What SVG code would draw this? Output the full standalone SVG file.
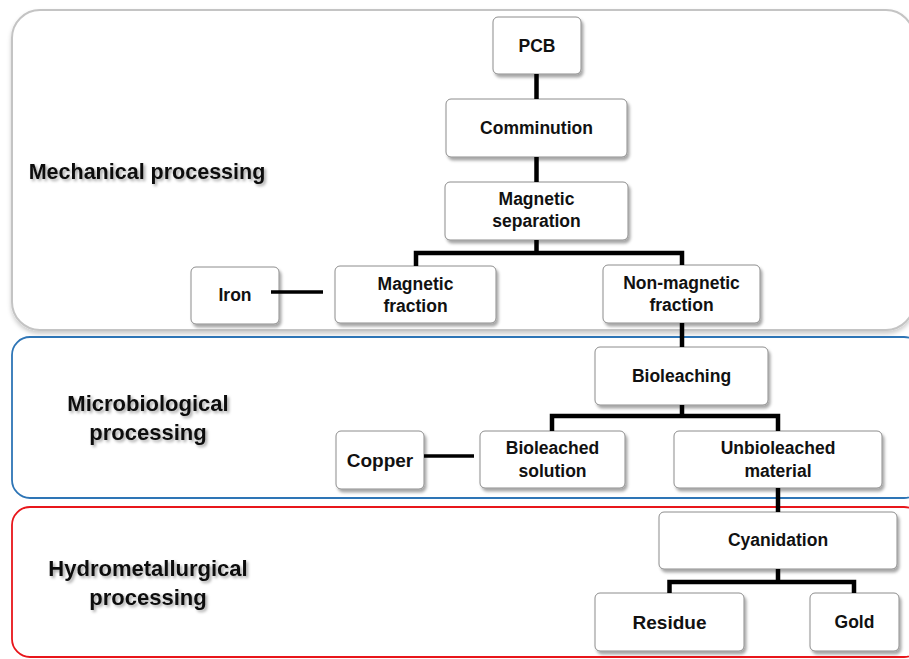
<svg xmlns="http://www.w3.org/2000/svg" width="909" height="659" viewBox="0 0 909 659">
<defs>
<filter id="sh" x="-20%" y="-20%" width="150%" height="160%">
<feGaussianBlur in="SourceAlpha" stdDeviation="1.6"/>
<feOffset dx="2" dy="3" result="b"/>
<feFlood flood-color="#000" flood-opacity="0.35"/>
<feComposite in2="b" operator="in"/>
<feMerge><feMergeNode/><feMergeNode in="SourceGraphic"/></feMerge>
</filter>
<filter id="secsh" x="-5%" y="-5%" width="110%" height="115%">
<feGaussianBlur in="SourceAlpha" stdDeviation="2"/>
<feOffset dx="0" dy="3" result="b"/>
<feFlood flood-color="#000" flood-opacity="0.2"/>
<feComposite in2="b" operator="in"/>
<feMerge><feMergeNode/><feMergeNode in="SourceGraphic"/></feMerge>
</filter>
<filter id="tsh" x="-10%" y="-30%" width="120%" height="160%">
<feGaussianBlur in="SourceAlpha" stdDeviation="1.5"/>
<feOffset dx="2" dy="2" result="b"/>
<feFlood flood-color="#000" flood-opacity="0.35"/>
<feComposite in2="b" operator="in"/>
<feMerge><feMergeNode/><feMergeNode in="SourceGraphic"/></feMerge>
</filter>
</defs>
<style>
.node rect{fill:#fff;stroke:#8c8c8c;stroke-width:1;filter:url(#sh)}
.node text{font-family:"Liberation Sans",Arial,sans-serif;font-weight:bold;font-size:17.5px;fill:#111;text-anchor:middle}
.node text.big{font-size:19px}
.sec{fill:#fff}
.lbl{font-family:"Liberation Sans",Arial,sans-serif;font-weight:bold;font-size:22px;fill:#111;text-anchor:middle;filter:url(#tsh)}
.conn{fill:none;stroke:#000;stroke-width:4.5}
</style>
<rect width="909" height="659" fill="#fff"/>
<g id="sections">
<rect id="sec-mech" class="sec" x="12" y="10" width="902" height="320" rx="28" ry="28" stroke="#c4c4c4" stroke-width="2" filter="url(#secsh)"/>
<rect id="sec-micro" class="sec" x="12" y="337" width="910" height="161" rx="18" ry="18" stroke="#2e75b6" stroke-width="1.8"/>
<rect id="sec-hydro" class="sec" x="12" y="507" width="910" height="150" rx="18" ry="18" stroke="#e8161b" stroke-width="1.8"/>
<text class="lbl" x="147" y="179" style="font-size:21.5px">Mechanical processing</text>
<text class="lbl" x="148" y="411">Microbiological</text>
<text class="lbl" x="148" y="440">processing</text>
<text class="lbl" x="148" y="576">Hydrometallurgical</text>
<text class="lbl" x="148" y="605">processing</text>
</g>
<g id="n-pcb" class="node"><rect x="493" y="17" width="88" height="57" rx="5"/><text x="537" y="52">PCB</text></g>
<g id="n-comminution" class="node"><rect x="446" y="99" width="181" height="58" rx="5"/><text x="536.5" y="134">Comminution</text></g>
<g id="n-magsep" class="node"><rect x="445" y="182" width="183" height="58" rx="5"/><text x="536.5" y="205">Magnetic</text><text x="536.5" y="227">separation</text></g>
<g id="n-iron" class="node"><rect x="191" y="267" width="88" height="57" rx="5"/><text x="235" y="301">Iron</text></g>
<g id="n-magfrac" class="node"><rect x="335" y="266" width="161" height="57" rx="5"/><text x="415.5" y="290">Magnetic</text><text x="415.5" y="312">fraction</text></g>
<g id="n-nonmag" class="node"><rect x="603" y="265" width="157" height="58" rx="5"/><text x="681.5" y="289">Non-magnetic</text><text x="681.5" y="311">fraction</text></g>
<g id="n-bioleaching" class="node"><rect x="595" y="347" width="173" height="58" rx="5"/><text x="681.5" y="382">Bioleaching</text></g>
<g id="n-copper" class="node"><rect x="336" y="431" width="88" height="58" rx="5"/><text class="big" x="380" y="467">Copper</text></g>
<g id="n-biosol" class="node"><rect x="480" y="431" width="145" height="57" rx="5"/><text x="552.5" y="454">Bioleached</text><text x="552.5" y="477">solution</text></g>
<g id="n-unbio" class="node"><rect x="674" y="431" width="208" height="57" rx="5"/><text x="778" y="454">Unbioleached</text><text x="778" y="477">material</text></g>
<g id="n-cyanidation" class="node"><rect x="659" y="512" width="238" height="57" rx="5"/><text x="778" y="546">Cyanidation</text></g>
<g id="n-residue" class="node"><rect x="595" y="593" width="149" height="58" rx="5"/><text class="big" x="669.5" y="629">Residue</text></g>
<g id="n-gold" class="node"><rect x="810" y="593" width="89" height="58" rx="5"/><text x="854.5" y="628">Gold</text></g>
<g id="connectors" class="conn">
<path d="M536.5 74V99"/>
<path d="M536.5 157V182"/>
<path d="M536.5 240V253M416 266V253H682V265"/>
<path d="M271 292H323" stroke-width="3.5"/>
<path d="M682 323V347"/>
<path d="M682 405V416M552 431V416H778V431"/>
<path d="M424 456H474" stroke-width="3.5"/>
<path d="M778 488V512"/>
<path d="M778 569V582M669.5 593V582H854V593"/>
</g>
</svg>
